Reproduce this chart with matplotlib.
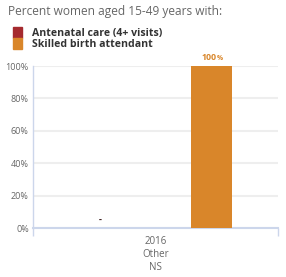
import numpy as np
from matplotlib import pyplot as plt
from matplotlib.patches import Rectangle

# Chart data
categories = ["2016\nOther\nNS"]
series_names = ["Antenatal care (4+ visits)", "Skilled birth attendant"]
antenatal = [None]
skilled = [100]
yticks = [0, 20, 40, 60, 80, 100]

colors = ["#A52A2E", "#D9862A"]


def main():
    plt.rcParams['font.family'] = ['Open Sans', 'DejaVu Sans']
    fig = plt.figure(figsize=(2.86, 2.77), dpi=100)

    ax = fig.add_axes([33 / 286, 49 / 277, 245 / 286, 162 / 277])
    x = np.arange(len(categories))
    width = 0.165
    offsets = [-0.225, 0.228]

    for i, (vals, off) in enumerate(zip([antenatal, skilled], offsets)):
        for xi, v in zip(x, vals):
            if v is None:
                ax.annotate("-", (xi + off, 0), xytext=(0, 2.5),
                            textcoords='offset points', ha='center',
                            va='bottom', fontsize=6.5, color='#3a1a1a',
                            fontweight='bold')
                continue
            ax.bar(xi + off, v, width, color=colors[i], zorder=3)
            ax.annotate("100", (xi + off, v), xytext=(-1.5, 3),
                        textcoords='offset points', ha='center', va='bottom',
                        fontsize=6.3, color=colors[i], fontweight='bold')
            ax.annotate("%", (xi + off, v), xytext=(6, 3),
                        textcoords='offset points', ha='center', va='bottom',
                        fontsize=4.8, color=colors[i], fontweight='bold')

    ax.set_xlim(-0.5, len(categories) - 0.5)
    ax.set_ylim(0, 100)
    ax.set_yticks(yticks)
    ax.set_yticklabels([f"{t}%" for t in yticks])
    ax.grid(axis='y', color='#eeeeee', linewidth=1.5, zorder=0)
    ax.tick_params(axis='y', length=0, labelsize=6.5, colors='#666666', pad=3)

    ax.set_xticks(x)
    ax.set_xticklabels(categories, linespacing=1.25)
    ax.tick_params(axis='x', length=0, labelsize=7, colors='#666666', pad=6)
    ax.set_xticks([-0.5, len(categories) - 0.5], minor=True)
    ax.tick_params(axis='x', which='minor', length=6, color='#ccd6eb',
                   width=1)

    for s in ['top', 'right']:
        ax.spines[s].set_visible(False)
    ax.spines['bottom'].set_color('#ccd6eb')
    ax.spines['bottom'].set_linewidth(1.5)
    ax.spines['left'].set_color('#ccd6eb')
    ax.spines['left'].set_linewidth(1)

    # Header and legend
    fig.text(8 / 286, 1 - 12 / 277, "Percent women aged 15-49 years with:",
             fontsize=8.6, color='#666666', va='center')
    for i, name in enumerate(series_names):
        yc = 32 + i * 11
        fig.patches.append(Rectangle((13 / 286, 1 - (yc + 5.5) / 277),
                                     9 / 286, 11 / 277, color=colors[i],
                                     transform=fig.transFigure))
        fig.text(32 / 286, 1 - (yc + 1.5) / 277, name, fontsize=7.6,
                 fontweight='bold', color='#333333', va='center')

    fig.savefig('out.png', dpi=100)


if __name__ == '__main__':
    main()
